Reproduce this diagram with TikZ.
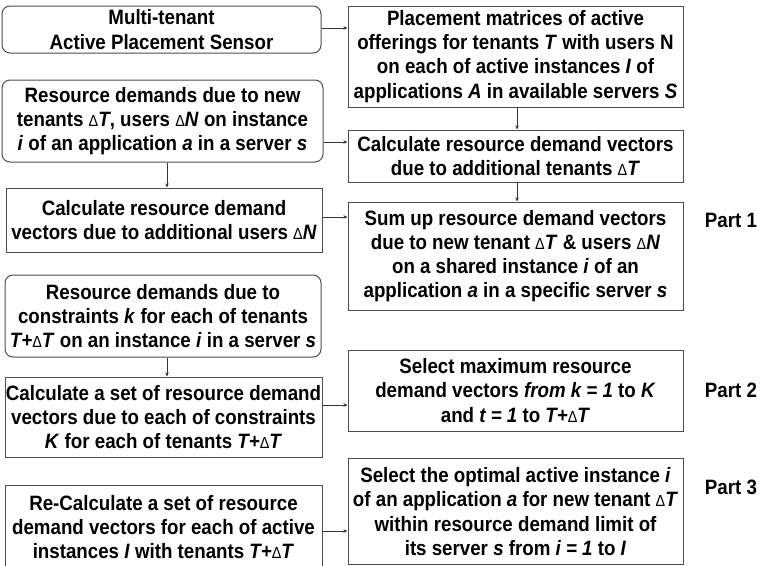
\documentclass[tikz,border=0pt]{standalone}
\usepackage{fontspec}
\setmainfont{Liberation Sans}[FakeStretch=0.9]
\usetikzlibrary{arrows.meta}
\newcommand{\dlt}{{\fontsize{16}{16}\selectfont\upshape\mdseries Δ}}
\newcommand{\iv}[1]{\textit{#1}}
\begin{document}
\begin{tikzpicture}[x=1pt,y=-1pt,
  every node/.style={font=\bfseries\fontsize{20.8}{24.2}\selectfont, align=center, inner sep=0pt},
  boxbase/.style={draw=black!70, line width=1pt},
  sqbox/.style={boxbase},
  rdbox/.style={boxbase, rounded corners=8pt},
  arr/.style={draw=black!80, line width=0.8pt, -{Stealth[length=4pt,width=3.5pt]}},
  partlbl/.style={anchor=center}]
\useasboundingbox (0,0) rectangle (763,565);

% left column
\node[rdbox, minimum width=319pt, minimum height=47pt] (sensor) at (161.5,29.5)
  {Multi-tenant\\Active Placement Sensor};
\node[rdbox, minimum width=321pt, minimum height=82pt] (newdem) at (162.5,121)
  {Resource demands due to new\\tenants \dlt\iv{T}, users \dlt\iv{N} on instance\\\iv{i} of an application \iv{a} in a server \iv{s}};
\node[sqbox, minimum width=316pt, minimum height=64pt] (users) at (164,220)
  {Calculate resource demand\\vectors due to additional users \dlt\iv{N}};
\node[rdbox, minimum width=316pt, minimum height=82pt] (constr) at (163,316)
  {Resource demands due to\\constraints \iv{k} for each of tenants\\\iv{T+}\dlt\iv{T} on an instance \iv{i} in a server \iv{s}};
\node[sqbox, minimum width=317pt, minimum height=80pt] (setcalc) at (163.5,417)
  {Calculate a set of resource demand\\vectors due to each of constraints\\\iv{K} for each of tenants \iv{T+}\dlt\iv{T}};
\node[sqbox, minimum width=317pt, minimum height=84pt] (recalc) at (163.5,527)
  {Re-Calculate a set of resource\\demand vectors for each of active\\instances \iv{I} with tenants \iv{T+}\dlt\iv{T}};

% right column
\node[sqbox, minimum width=335pt, minimum height=101pt] (matrix) at (515.5,56.5)
  {Placement matrices of active\\offerings for tenants \iv{T} with users N\\on each of active instances \iv{I} of\\applications \iv{A} in available servers \iv{S}};
\node[sqbox, minimum width=335pt, minimum height=52pt] (tenants) at (515.5,156)
  {Calculate resource demand vectors\\due to additional tenants \dlt\iv{T}};
\node[sqbox, minimum width=335pt, minimum height=108pt] (sumup) at (515.5,256)
  {Sum up resource demand vectors\\due to new tenant \dlt\iv{T} \& users \dlt\iv{N}\\on a shared instance \iv{i} of an\\application \iv{a} in a specific server \iv{s}};
\node[sqbox, minimum width=335pt, minimum height=81pt] (maxsel) at (515.5,390.5)
  {Select maximum resource\\demand vectors \iv{from k = 1} to \iv{K}\\and \iv{t = 1} to \iv{T+}\dlt\iv{T}};
\node[sqbox, minimum width=335pt, minimum height=106pt] (optsel) at (515.5,511.5)
  {Select the optimal active instance \iv{i}\\of an application \iv{a} for new tenant \dlt\iv{T}\\within resource demand limit of\\its server \iv{s} from \iv{i = 1} to \iv{I}};

% part labels
\node[partlbl] (p1) at (731,220) {Part 1};
\node[partlbl] (p2) at (731,390) {Part 2};
\node[partlbl] (p3) at (731,487) {Part 3};

% connectors
\draw[arr] (sensor.east |- 0,28) -- (matrix.west |- 0,28);
\draw[arr] (matrix.south -| 517,0) -- (tenants.north -| 517,0);
\draw[arr] (newdem.east |- 0,142) -- (tenants.west |- 0,142);
\draw[arr] (newdem.south -| 167,0) -- (users.north -| 167,0);
\draw[arr] (tenants.south -| 517,0) -- (sumup.north -| 517,0);
\draw[arr] (users.east |- 0,217) -- (sumup.west |- 0,217);
\draw[arr] (constr.south -| 167,0) -- (setcalc.north -| 167,0);
\draw[arr] (setcalc.east |- 0,405) -- (maxsel.west |- 0,405);
\draw[arr] (recalc.east |- 0,531) -- (optsel.west |- 0,531);
\end{tikzpicture}
\end{document}
